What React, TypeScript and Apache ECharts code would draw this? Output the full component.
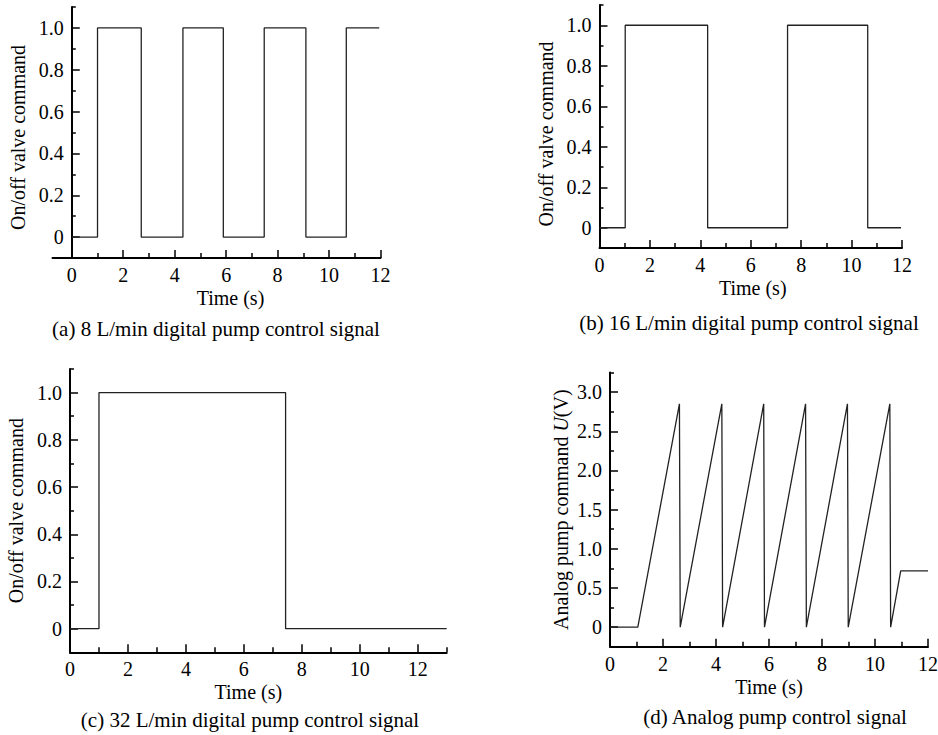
import React, { useEffect, useRef } from "react";
import * as echarts from "echarts";

// ---- data ----
const switchTimesA = [0, 1.0, 2.7, 4.32, 5.89, 7.48, 9.1, 10.67, 11.95];
const valveLevelsA = [0, 1, 0, 1, 0, 1, 0, 1, 1];
const switchTimesB = [0, 1.02, 4.29, 7.46, 10.64, 11.96];
const valveLevelsB = [0, 1, 0, 1, 0, 0];
const switchTimesC = [0, 1.0, 7.44, 13];
const valveLevelsC = [0, 1, 0, 0];
const analogTimesD = [0, 1.05, 2.62, 2.65, 4.22, 4.25, 5.8, 5.83, 7.38, 7.41, 8.96, 8.99, 10.56, 10.59, 10.97, 12];
const analogVoltsD = [0, 0, 2.85, 0, 2.85, 0, 2.85, 0, 2.85, 0, 2.85, 0, 2.85, 0, 0.72, 0.72];

const valveMajorTicks = [0, 0.2, 0.4, 0.6, 0.8, 1.0];
const valveMinorTicks = [0.1, 0.3, 0.5, 0.7, 0.9, 1.1];
const voltMajorTicks = [0, 0.5, 1.0, 1.5, 2.0, 2.5, 3.0];
const voltMinorTicks = [0.25, 0.75, 1.25, 1.75, 2.25, 2.75, 3.25];
const timeMajorTicks = [0, 2, 4, 6, 8, 10, 12];
const timeMinorTicks12 = [1, 3, 5, 7, 9, 11];
const timeMinorTicks13 = [1, 3, 5, 7, 9, 11, 13];

const captions = [
  "(a) 8 L/min digital pump control signal",
  "(b) 16 L/min digital pump control signal",
  "(c) 32 L/min digital pump control signal",
  "(d) Analog pump control signal",
];
const valveAxisName = "On/off valve command";
const analogAxisName = "Analog pump command {i|U}(V)";
const timeAxisName = "Time (s)";

const FONT = "'Liberation Serif', 'Times New Roman', serif";
const FS = 20;

function zip(a: number[], b: number[]) {
  return a.map((t, i) => [t, b[i]]);
}

function xAxes(gridIndex: number, min: number, max: number, minor: number[], namePad: number[]) {
  return [
    {
      type: "value", gridIndex, min, max, position: "bottom",
      axisLine: { show: true, onZero: false, lineStyle: { color: "#000", width: 2 } },
      axisTick: { show: true, inside: true, length: 8, customValues: timeMajorTicks, lineStyle: { color: "#000", width: 1.5 } },
      axisLabel: { customValues: timeMajorTicks, margin: 7, color: "#000", fontFamily: FONT, fontSize: FS },
      splitLine: { show: false },
      name: timeAxisName, nameLocation: "middle", nameGap: 30,
      nameTextStyle: { color: "#000", fontFamily: FONT, fontSize: FS, padding: namePad },
    },
    {
      type: "value", gridIndex, min, max, position: "bottom",
      axisLine: { show: false, onZero: false },
      axisTick: { show: true, inside: true, length: 5, customValues: minor, lineStyle: { color: "#000", width: 1.5 } },
      axisLabel: { show: false },
      splitLine: { show: false },
    },
  ];
}

function yAxes(gridIndex: number, min: number, max: number, major: number[], minor: number[], name: string, nameGap: number, namePad: number[], offset: number) {
  return [
    {
      type: "value", gridIndex, min, max, position: "left", offset,
      axisLine: { show: true, onZero: false, lineStyle: { color: "#000", width: 2 } },
      axisTick: { show: true, inside: true, length: 8, customValues: major, lineStyle: { color: "#000", width: 1.5 } },
      axisLabel: {
        customValues: major, margin: 8, color: "#000", fontFamily: FONT, fontSize: FS,
        formatter: (v: number) => (v === 0 ? "0" : v.toFixed(1)),
      },
      splitLine: { show: false },
      name, nameLocation: "middle", nameGap,
      nameTextStyle: {
        color: "#000", fontFamily: FONT, fontSize: FS, padding: namePad,
        rich: { i: { fontStyle: "italic", color: "#000", fontFamily: FONT, fontSize: FS } },
      },
    },
    {
      type: "value", gridIndex, min, max, position: "left", offset,
      axisLine: { show: false, onZero: false },
      axisTick: { show: true, inside: true, length: 4, customValues: minor, lineStyle: { color: "#000", width: 1.5 } },
      axisLabel: { show: false },
      splitLine: { show: false },
    },
  ];
}

const lineStyle = { color: "#222", width: 1.3 };
const capStyle = { fill: "#000", fontFamily: FONT, fontSize: 21, align: "center", verticalAlign: "middle" };

// panel (a): x axis starts at -0.75, y axis sits at t = 0
const gridAWidth = 328;
const xMinA = -0.75;
const xMaxA = 12;
const yOffsetA = -((0 - xMinA) / (xMaxA - xMinA)) * gridAWidth;

export default function App() {
  const ref = useRef<HTMLDivElement>(null);
  useEffect(() => {
    document.body.style.margin = "0";
    if (!ref.current) return;
    const chart = echarts.init(ref.current, null, { renderer: "svg" });
    const option: any = {
      animation: false,
      backgroundColor: "#fff",
      grid: [
        { left: 52.5, top: 7, width: gridAWidth, height: 251, outerBoundsMode: "none", containLabel: false },
        { left: 599.5, top: 5, width: 302.5, height: 243, outerBoundsMode: "none", containLabel: false },
        { left: 70, top: 369, width: 376.7, height: 283.3, outerBoundsMode: "none", containLabel: false },
        { left: 610, top: 372.5, width: 318, height: 274.3, outerBoundsMode: "none", containLabel: false },
      ],
      xAxis: [
        ...xAxes(0, xMinA, xMaxA, timeMinorTicks12, [0, 0, 0, 28]),
        ...xAxes(1, 0, 12, timeMinorTicks12, [0, 0, 0, 4]),
        ...xAxes(2, 0, 13, timeMinorTicks13, [0, 20, 0, 0]),
        ...xAxes(3, 0, 12, timeMinorTicks12, [0, 0, 0, 0]),
      ],
      yAxis: [
        ...yAxes(0, -0.1, 1.1, valveMajorTicks, valveMinorTicks, valveAxisName, 44, [0, 10, 0, 0], yOffsetA),
        ...yAxes(1, -0.1, 1.1, valveMajorTicks, valveMinorTicks, valveAxisName, 44, [0, 15, 0, 0], 0),
        ...yAxes(2, -0.1, 1.1, valveMajorTicks, valveMinorTicks, valveAxisName, 44, [0, 0, 0, 0], 0),
        ...yAxes(3, -0.25, 3.25, voltMajorTicks, voltMinorTicks, analogAxisName, 39, [0, 0, 0, 0], 0),
      ],
      series: [
        { type: "line", xAxisIndex: 0, yAxisIndex: 0, step: "end", showSymbol: false, lineStyle, data: zip(switchTimesA, valveLevelsA) },
        { type: "line", xAxisIndex: 2, yAxisIndex: 2, step: "end", showSymbol: false, lineStyle, data: zip(switchTimesB, valveLevelsB) },
        { type: "line", xAxisIndex: 4, yAxisIndex: 4, step: "end", showSymbol: false, lineStyle, data: zip(switchTimesC, valveLevelsC) },
        { type: "line", xAxisIndex: 6, yAxisIndex: 6, showSymbol: false, lineStyle, data: zip(analogTimesD, analogVoltsD) },
      ],
      graphic: [
        { type: "text", x: 216, y: 329, style: { text: captions[0], ...capStyle } },
        { type: "text", x: 749, y: 323, style: { text: captions[1], ...capStyle } },
        { type: "text", x: 250, y: 720, style: { text: captions[2], ...capStyle } },
        { type: "text", x: 775, y: 717, style: { text: captions[3], ...capStyle } },
      ],
    };
    chart.setOption(option);
    return () => chart.dispose();
  }, []);
  return <div ref={ref} style={{ width: 938, height: 735 }} />;
}
